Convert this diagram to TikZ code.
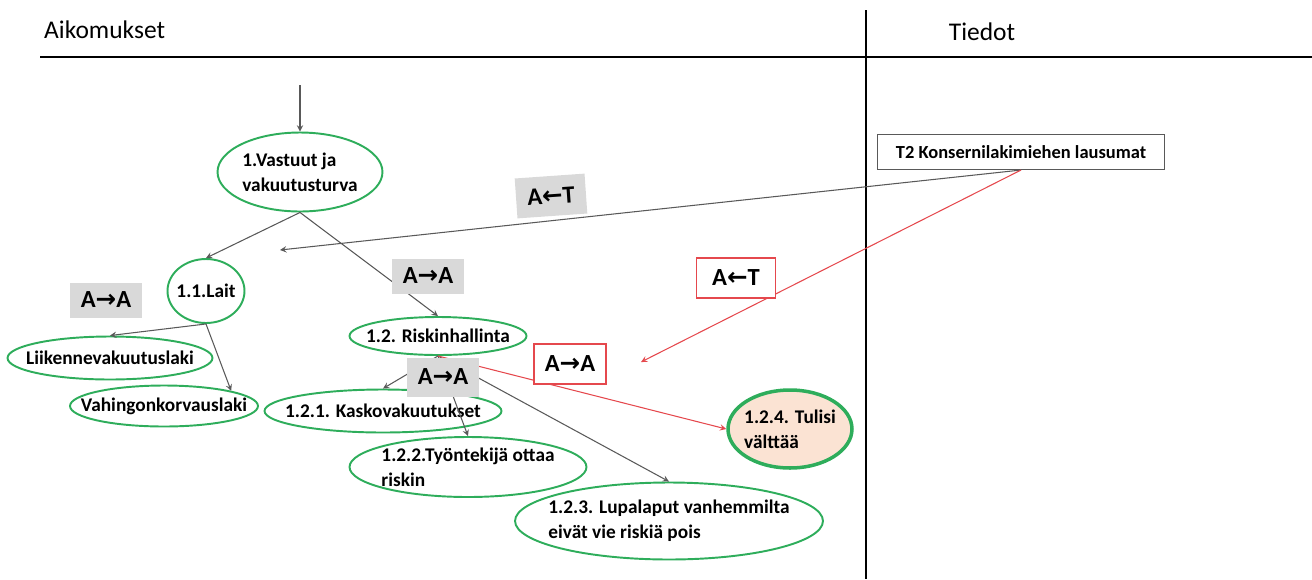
\documentclass[tikz,border=0pt]{standalone}
\usepackage{fontspec}
\setmainfont{Carlito}
\newfontfamily\arrowfont{DejaVu Sans}
\usetikzlibrary{shapes.geometric}
\definecolor{ellgreen}{HTML}{2EAD5B}
\definecolor{linkred}{HTML}{E5484D}
\definecolor{tagfill}{HTML}{D9D9D9}
\definecolor{peach}{HTML}{FBE3D3}
\definecolor{linkgray}{HTML}{595959}
\newcommand{\toarr}{{\arrowfont\bfseries →}}
\newcommand{\fromarr}{{\arrowfont\bfseries ←}}
\begin{document}
\begin{tikzpicture}[x=0.02cm,y=-0.02cm,>=stealth,
  ell/.style={draw=ellgreen,line width=1.1pt,ellipse,inner sep=0pt},
  lbl/.style={font=\bfseries\fontsize{11}{14}\selectfont,align=left,inner sep=0pt},
  link/.style={->,draw=linkgray,line width=0.6pt},
  redlink/.style={->,draw=linkred,line width=0.6pt},
  tag/.style={fill=tagfill,font=\bfseries\fontsize{14}{16}\selectfont,minimum width=1.44cm,minimum height=0.7cm,inner sep=0pt},
  redtag/.style={draw=linkred,fill=white,line width=0.6pt,font=\bfseries\fontsize{14}{16}\selectfont,minimum height=0.8cm,inner sep=0pt},
  head/.style={font=\fontsize{14.5}{17}\selectfont}]
\useasboundingbox (0,0) rectangle (1312,579);
% columns
\draw[line width=1.7pt] (40,57) -- (1312,57);
\draw[line width=1.4pt] (866,10) -- (866,579);
\node[head,anchor=west] (aik) at (38,30) {Aikomukset};
\node[head] (tied) at (982,32) {Tiedot};
% aims
\node[ell,minimum width=3.3cm,minimum height=1.58cm,label={[lbl]center:1.Vastuut ja\\vakuutusturva}] (v1) at (300,172) {};
\node[ell,minimum width=1.54cm,minimum height=1.28cm,label={[lbl]center:1.1.Lait}] (lait) at (206,291) {};
\node[ell,minimum width=4.1cm,minimum height=0.86cm,label={[lbl]center:Liikennevakuutuslaki}] (liik) at (110,358) {};
\node[ell,minimum width=3.76cm,minimum height=0.82cm,label={[lbl]center:Vahingonkorvauslaki}] (vahin) at (164,406) {};
\node[ell,minimum width=3.54cm,minimum height=0.76cm,label={[lbl]center:1.2. Riskinhallinta}] (risk) at (438,336) {};
\node[ell,minimum width=4.74cm,minimum height=0.86cm,label={[lbl]center:1.2.1. Kaskovakuutukset}] (kasko) at (383,411) {};
\node[ell,minimum width=4.74cm,minimum height=1.2cm,label={[lbl]center:1.2.2.Työntekijä ottaa\\riskin}] (tyo) at (468,467) {};
\node[ell,minimum width=6.16cm,minimum height=1.54cm,label={[lbl]center:1.2.3. Lupalaput vanhemmilta\\eivät vie riskiä pois}] (lupa) at (669,521) {};
\node[ell,fill=peach,line width=2pt,minimum width=2.48cm,minimum height=1.56cm,label={[lbl]center:1.2.4. Tulisi\\välttää}] (tulisi) at (790,429) {};
% data
\node[draw=linkgray,line width=0.6pt,font=\bfseries\fontsize{10.5}{12}\selectfont,minimum width=5.74cm,minimum height=0.7cm,inner sep=0pt] (t2) at (1021,152) {T2 Konsernilakimiehen lausumat};
\coordinate (start) at (300,85);
\coordinate (endt) at (280,250);
\coordinate (endr) at (641,362);
% links
\draw[link] (start) -- (v1.north);
\draw[link] (v1.south) -- (lait.north);
\draw[link] (v1.south) -- (risk.north);
\draw[link] (t2.south) -- (endt);
\draw[redlink] (t2.south) -- (endr);
\draw[link] (lait.south) -- (liik.north);
\draw[link] (lait.south) -- (vahin.north east);
\draw[link] (risk.south) -- (kasko.north);
\draw[link] (risk.south) -- (tyo.north);
\draw[link] (risk.south) -- (lupa.north);
\draw[redlink] (risk.south) -- (tulisi.west);
% relation tags
\node[tag,rotate=4,minimum width=1.4cm,minimum height=0.8cm] (tagt) at (551,196) {A\fromarr T};
\node[tag] (tagv) at (428,276) {A\toarr A};
\node[tag] (tagl) at (106,300) {A\toarr A};
\node[tag,minimum height=0.78cm] (tagr) at (443,377) {A\toarr A};
\node[redtag,minimum width=1.58cm] (redt) at (736,278) {A\fromarr T};
\node[redtag,minimum width=1.44cm] (reda) at (570,364) {A\toarr A};
\end{tikzpicture}
\end{document}
